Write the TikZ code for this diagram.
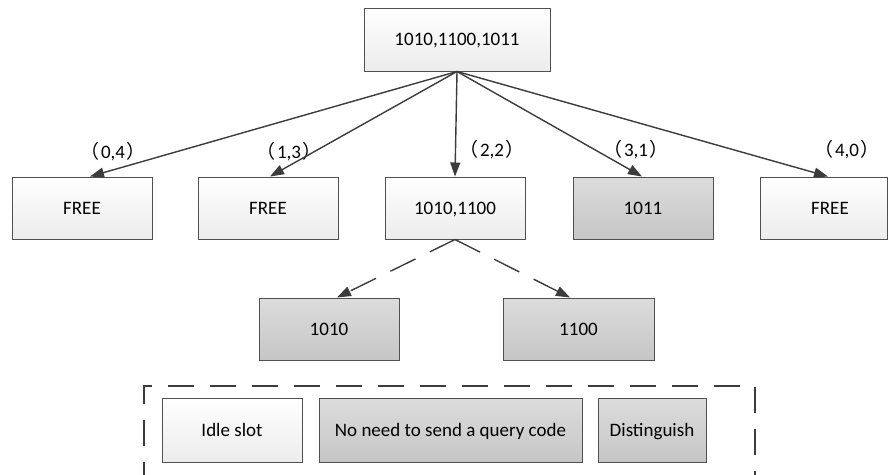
\documentclass[tikz,border=0pt]{standalone}
\usepackage{fontspec}
\setmainfont{Carlito}
\newfontfamily\cjk{Noto Sans CJK SC}
\usetikzlibrary{arrows.meta,shadows}

\definecolor{edge}{HTML}{505050}
\definecolor{ink}{HTML}{3C3C3C}
\definecolor{paleBot}{HTML}{ECECEC}
\definecolor{greyTop}{HTML}{DCDCDC}
\definecolor{greyBot}{HTML}{C6C6C6}

\newcommand{\pair}[1]{{\cjk （}\kern1.5pt#1\kern1.5pt{\cjk ）}}

\tikzset{
  box/.style={draw=edge, line width=1pt, inner sep=0pt,
    minimum width=140pt, minimum height=62pt,
    text height=12.2pt, text depth=0pt,
    font=\fontsize{19}{22}\selectfont,
    drop shadow={shadow xshift=1.3pt, shadow yshift=-1.3pt, opacity=0.18}},
  palebox/.style={box, top color=white, bottom color=paleBot},
  greybox/.style={box, top color=greyTop, bottom color=greyBot},
  arr/.style={draw=ink, line width=1.4pt,
    -{Triangle[length=14pt,width=10pt]}},
  darr/.style={arr, dash pattern=on 28pt off 16pt},
  tag/.style={font=\fontsize{19}{22}\selectfont, inner sep=0pt},
  frame/.style={draw=ink, line width=1.3pt, dash pattern=on 26pt off 16pt}
}

\begin{document}
\begin{tikzpicture}[x=1pt, y=-1pt]
  \useasboundingbox (0,0) rectangle (889,474);

  % root
  \node[palebox, minimum width=186pt, minimum height=63pt] (root) at (457,39.5) {1010,1100,1011};

  % first level
  \node[palebox] (f1) at (82,208) {FREE};
  \node[palebox] (f2) at (268,208) {FREE};
  \node[palebox] (mid) at (455,208) {1010,1100};
  \node[greybox] (c1) at (643,208) {1011};
  \node[palebox, minimum width=127pt] (f3) at (823.5,208) {\hspace*{13pt}FREE};

  % second level
  \node[greybox] (a) at (329,329) {1010};
  \node[greybox, minimum width=151pt] (b) at (578.5,329) {1100};

  % branch labels
  \node[tag] (l1) at (113,152) {\pair{0,4}};
  \node[tag] (l2) at (289,152) {\pair{1,3}};
  \node[tag] (l3) at (492,150) {\pair{2,2}};
  \node[tag] (l4) at (636,150) {\pair{3,1}};
  \node[tag] (l5) at (847,150) {\pair{4,0}};

  % connectors
  \draw[arr] (root.south) -- ([xshift=8pt]f1.north);
  \draw[arr] (root.south) -- ([xshift=2pt]f2.north);
  \draw[arr] (root.south) -- (mid.north);
  \draw[arr] (root.south) -- ([xshift=-1pt]c1.north);
  \draw[arr] (root.south) -- ([xshift=4.5pt]f3.north);
  \draw[darr] (mid.south) -- ([xshift=8pt]a.north);
  \draw[darr] (mid.south) -- ([xshift=-8.5pt]b.north);

  % legend
  \coordinate (k1) at (144,488);
  \coordinate (k2) at (144,386);
  \coordinate (k3) at (755,386);
  \coordinate (k4) at (755,488);
  \draw[frame] (k1) -- (k2) -- (k3) -- (k4);
  \node[palebox, minimum height=64pt] (idle) at (232,430) {Idle slot};
  \node[greybox, minimum height=64pt, minimum width=263pt] (noq) at (450.5,430) {No need to send a query code};
  \node[greybox, minimum height=64pt, minimum width=108pt] (dist) at (652,430) {Distinguish};
\end{tikzpicture}
\end{document}
